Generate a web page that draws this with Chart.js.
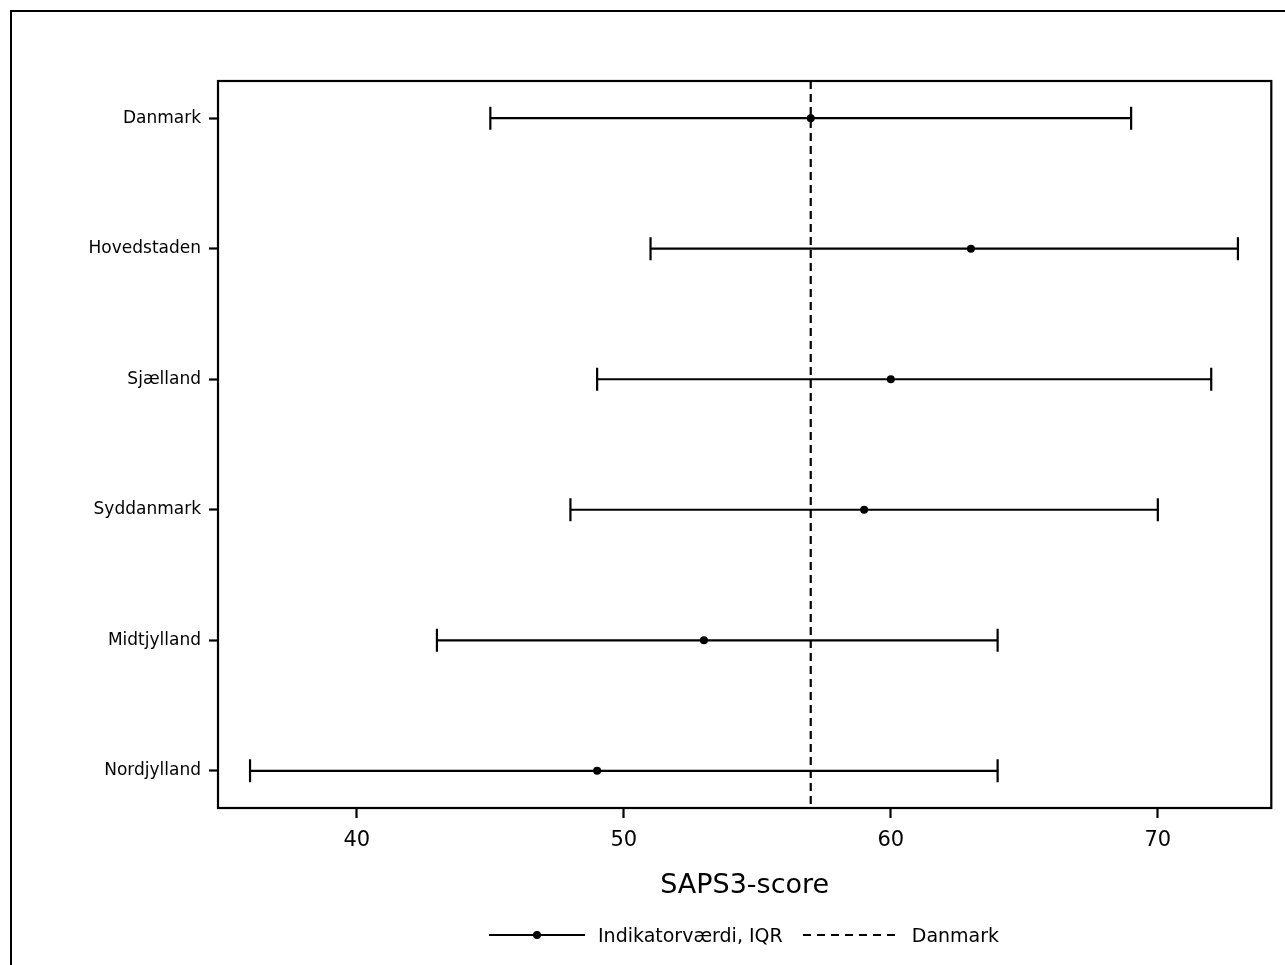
<!DOCTYPE html>
<html>
<head>
<meta charset="utf-8">
<script src="https://cdn.jsdelivr.net/npm/chart.js@4/dist/chart.umd.min.js"></script>
<style>
  html, body { margin: 0; padding: 0; background: #fff; overflow: hidden; }
  #wrap { position: relative; width: 1285px; height: 965px; }
  #frame { position: absolute; left: 10px; top: 10px; width: 1300px; height: 1000px; border: 2px solid #000; box-sizing: border-box; }
  #myChart { position: absolute; left: 0; top: 0; }
  #legend { position: absolute; top: 924px; left: 489px; font-family: 'DejaVu Sans', sans-serif; font-size: 19px; color: #000; white-space: nowrap; display: flex; align-items: center; }
  #legend span { margin-right: 20px; }
  #legend svg { margin-right: 13px; }
</style>
</head>
<body>
<div id="wrap">
  <div id="frame"></div>
  <canvas id="myChart" width="1285" height="965"></canvas>
  <div id="legend">
    <svg width="96" height="12"><line x1="0" y1="6" x2="96" y2="6" stroke="#000" stroke-width="2.2"/><circle cx="48" cy="6" r="4" fill="#000"/></svg>
    <span>Indikatorværdi, IQR</span>
    <svg width="96" height="12"><line x1="0" y1="6" x2="96" y2="6" stroke="#000" stroke-width="2.2" stroke-dasharray="8,6"/></svg>
    <span>Danmark</span>
  </div>
</div>
<script>
var regions = ['Danmark', 'Hovedstaden', 'Sjælland', 'Syddanmark', 'Midtjylland', 'Nordjylland'];
var q1 = [45, 51, 49, 48, 43, 36];
var median = [57, 63, 60, 59, 53, 49];
var q3 = [69, 73, 72, 70, 64, 64];
var danmarkValue = 57;
var xTicks = [40, 50, 60, 70];

var X_MIN = 34.8, X_MAX = 74.25;
var Y_MIN = -0.285, Y_MAX = 5.285;

var datasets = [];
// dashed reference line for Danmark
datasets.push({
    data: [{x: danmarkValue, y: Y_MIN}, {x: danmarkValue, y: Y_MAX}],
    showLine: true,
    borderColor: '#000',
    borderWidth: 2.2,
    borderDash: [8, 5],
    pointRadius: 0,
    clip: false
});
// IQR bars with end caps
for (var i = 0; i < regions.length; i++) {
    datasets.push({
        data: [{x: q1[i], y: i}, {x: q3[i], y: i}],
        showLine: true,
        borderColor: '#000',
        borderWidth: 2.2,
        pointStyle: 'line',
        rotation: 90,
        pointRadius: 11.5,
        pointBorderWidth: 2.2,
        pointBorderColor: '#000'
    });
}
// medians
datasets.push({
    data: median.map(function(m, i){ return {x: m, y: i}; }),
    pointStyle: 'circle',
    pointRadius: 4,
    backgroundColor: '#000',
    borderColor: '#000',
    pointBorderWidth: 0
});

var plotBorder = {
    id: 'plotBorder',
    afterDraw: function(chart) {
        var a = chart.chartArea, ctx = chart.ctx;
        ctx.save();
        ctx.strokeStyle = '#000';
        ctx.lineWidth = 2.2;
        ctx.strokeRect(a.left, a.top, a.right - a.left, a.bottom - a.top);
        ctx.restore();
    }
};

var ctx = document.getElementById('myChart').getContext('2d');
var chart = new Chart(ctx, {
    type: 'scatter',
    data: { datasets: datasets },
    plugins: [plotBorder],
    options: {
        responsive: false,
        animation: false,
        devicePixelRatio: 1,
        layout: { padding: { left: 0, top: 81, right: 13, bottom: 59 } },
        plugins: { legend: { display: false }, tooltip: { enabled: false } },
        scales: {
            x: {
                type: 'linear',
                min: X_MIN,
                max: X_MAX,
                afterBuildTicks: function(scale) {
                    scale.ticks = xTicks.map(function(v){ return {value: v}; });
                },
                afterFit: function(scale) { scale.height = 98; },
                border: { display: false },
                grid: { display: true, drawOnChartArea: false, drawTicks: true, tickLength: 10, tickColor: '#000', tickWidth: 2.2 },
                ticks: { color: '#000', font: { family: 'DejaVu Sans', size: 21 }, padding: 10, maxRotation: 0 },
                title: { display: true, text: 'SAPS3-score', color: '#000', font: { family: 'DejaVu Sans', size: 27 }, padding: { top: 4, bottom: 4 } }
            },
            y: {
                type: 'linear',
                reverse: true,
                min: Y_MIN,
                max: Y_MAX,
                afterBuildTicks: function(scale) {
                    scale.ticks = regions.map(function(r, i){ return {value: i}; });
                },
                afterFit: function(scale) { scale.width = 218; },
                border: { display: false },
                grid: { display: true, drawOnChartArea: false, drawTicks: true, tickLength: 9, tickColor: '#000', tickWidth: 2.2 },
                ticks: {
                    color: '#000',
                    font: { family: 'DejaVu Sans', size: 17 },
                    padding: 8,
                    callback: function(value) { return regions[value]; }
                }
            }
        }
    }
});
</script>
</body>
</html>
